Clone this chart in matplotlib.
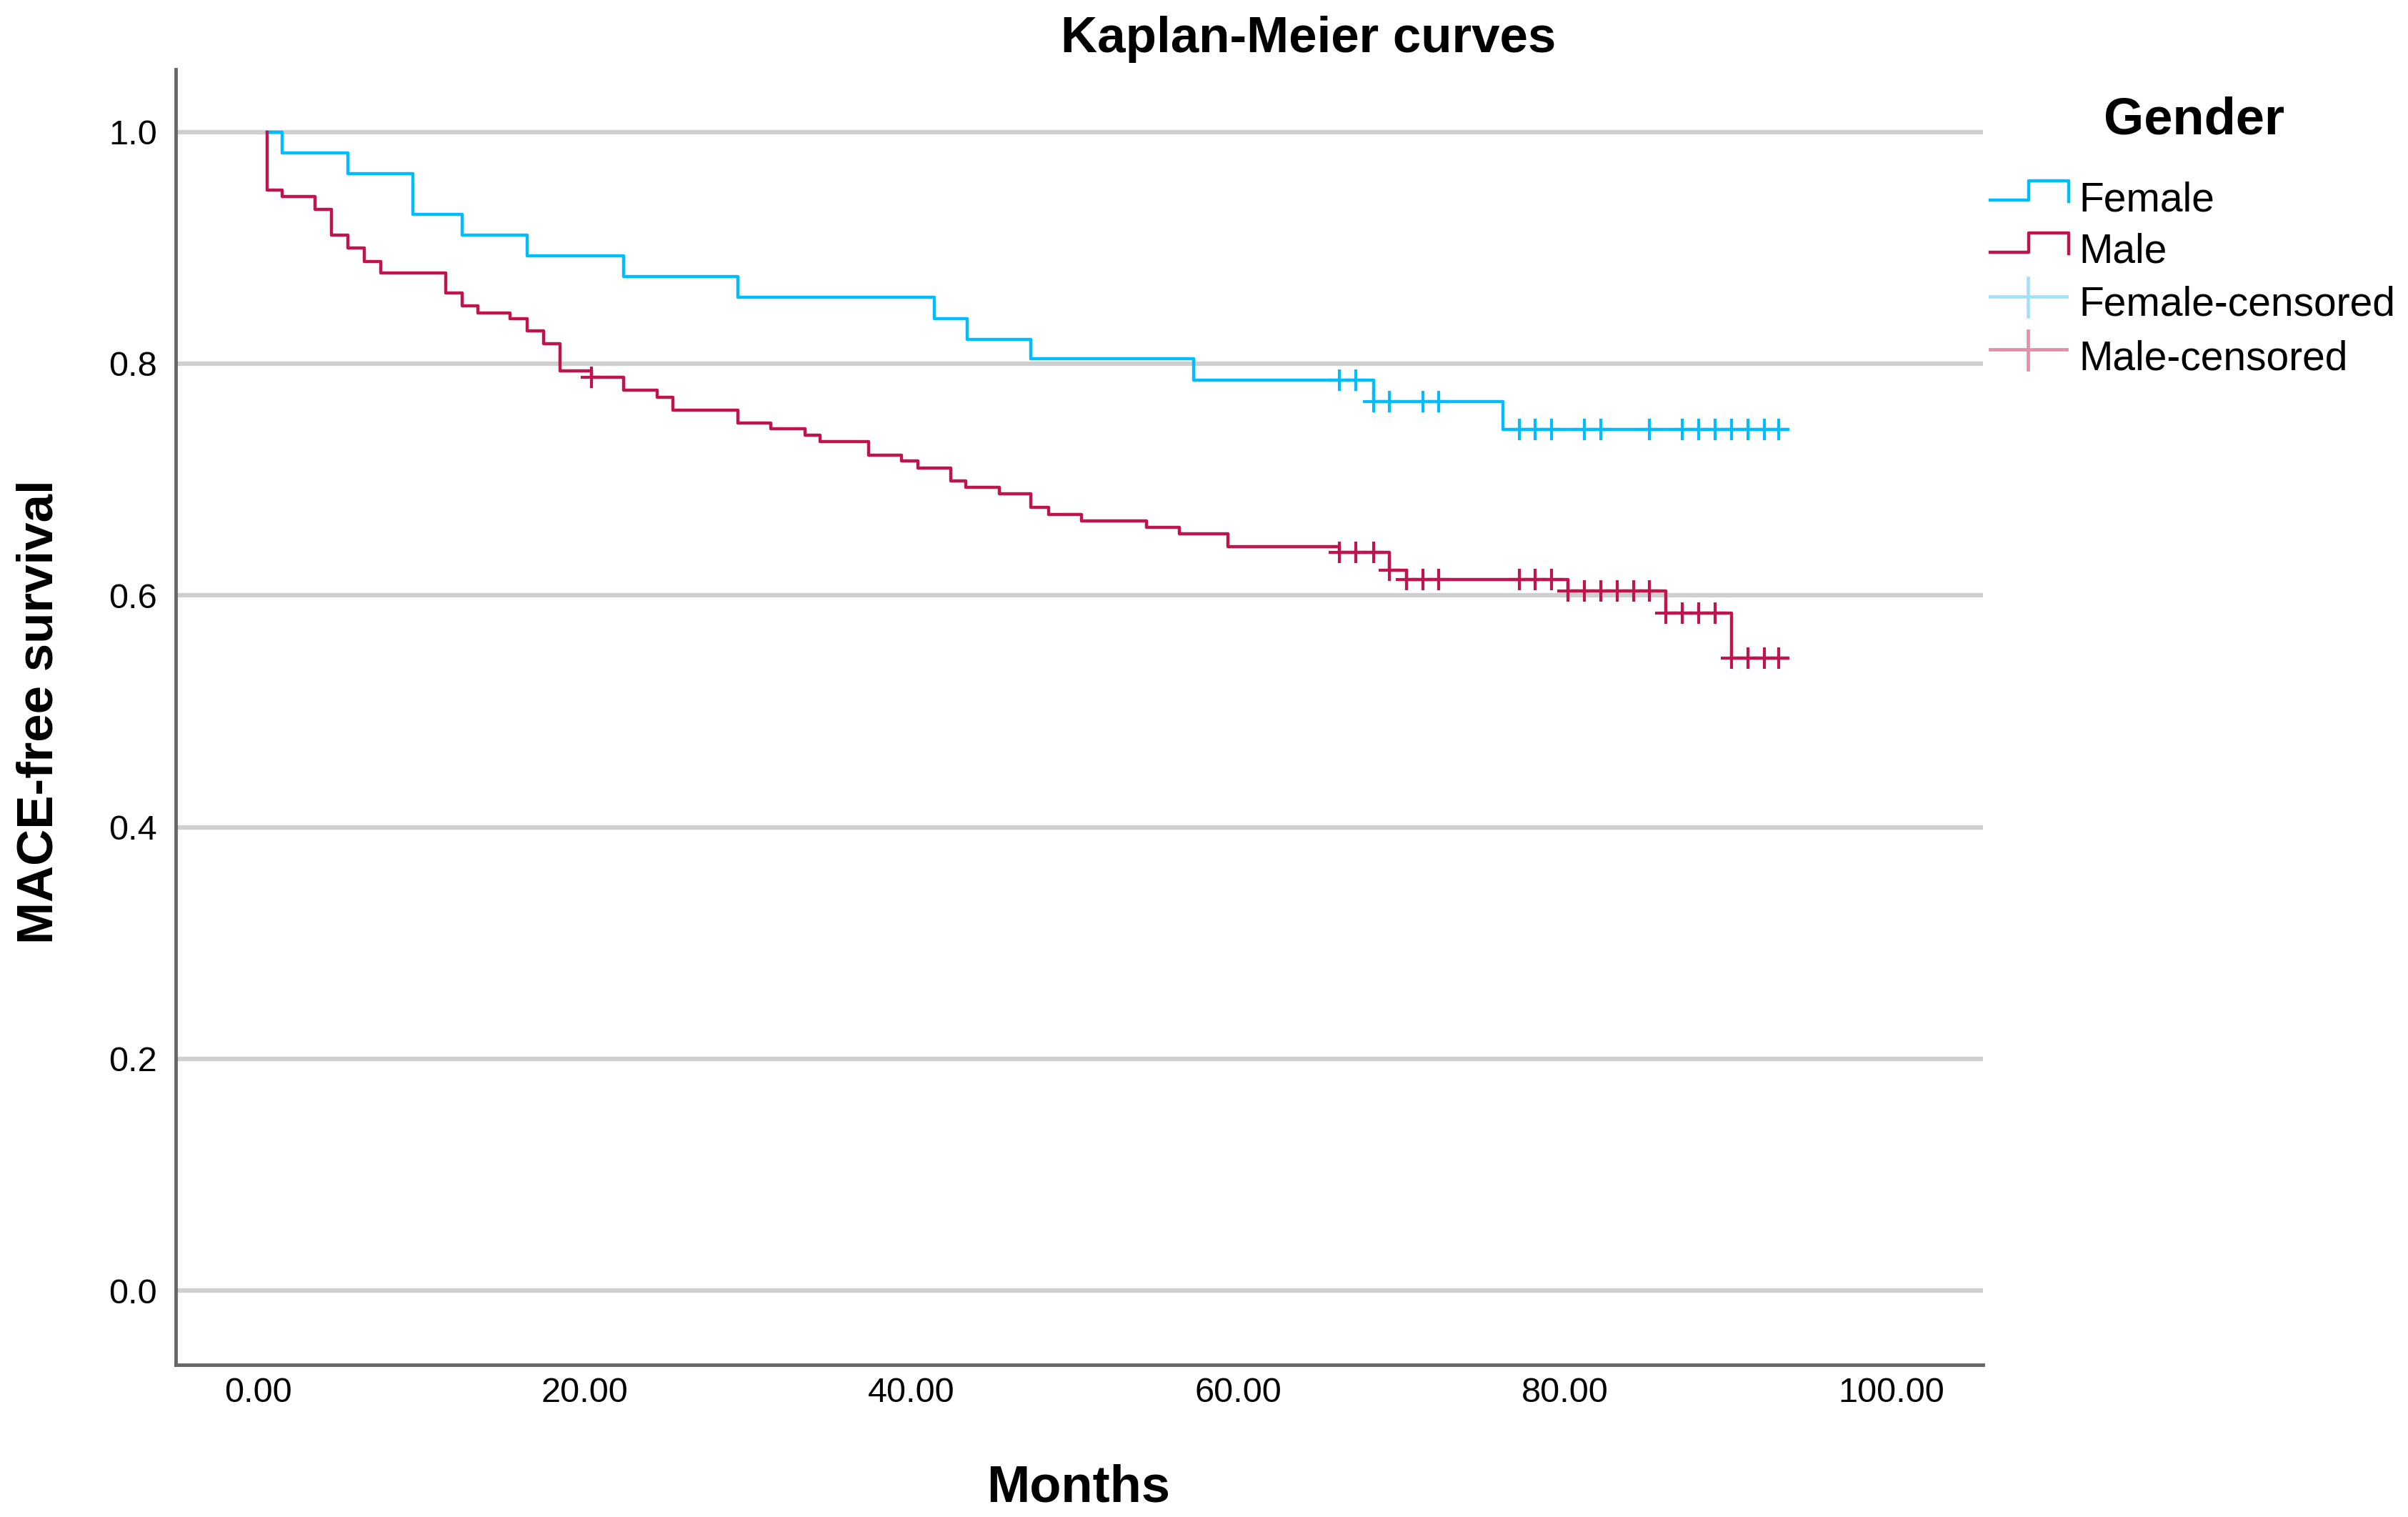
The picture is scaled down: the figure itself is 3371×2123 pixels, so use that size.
import numpy as np
import matplotlib
matplotlib.use("Agg")
import matplotlib.pyplot as plt
from matplotlib.lines import Line2D
from matplotlib.ticker import FormatStrFormatter

plt.rcParams['font.family'] = ['Liberation Sans', 'DejaVu Sans']

# Kaplan-Meier steps (time in months, survival after the step)
female_times = [0.55, 1.5, 5.5, 9.5, 12.5, 16.5, 22.4, 29.4, 41.4, 43.4, 47.3, 57.3, 68.3, 76.2]
female_surv = [1.0, 0.982, 0.964, 0.929, 0.911, 0.893, 0.875, 0.857, 0.839, 0.821, 0.804, 0.786, 0.767, 0.743]
female_end = 93.6
female_censored = [66.2, 67.2, 68.3, 69.25, 71.3, 72.3, 77.2, 78.2, 79.2, 81.2, 82.2,
                   85.2, 87.2, 88.2, 89.2, 90.2, 91.2, 92.2, 93.1]

male_times = [0.55, 0.57, 1.5, 3.5, 4.5, 5.5, 6.5, 7.5, 11.5, 12.5, 13.45, 15.45, 16.5, 17.5,
              18.5, 20.4, 22.4, 24.45, 25.4, 29.4, 31.4, 33.5, 34.4, 37.4, 39.4, 40.4, 42.4,
              43.35, 45.4, 47.3, 48.4, 50.4, 54.4, 56.4, 59.4, 66.2, 69.25, 70.3, 80.2, 86.2, 90.2]
male_surv = [1.0, 0.950, 0.944, 0.933, 0.911, 0.900, 0.888, 0.878, 0.861, 0.850, 0.844, 0.839,
             0.828, 0.817, 0.794, 0.788, 0.777, 0.771, 0.760, 0.749, 0.744, 0.738, 0.733, 0.721,
             0.716, 0.710, 0.699, 0.693, 0.688, 0.676, 0.670, 0.664, 0.659, 0.653, 0.642, 0.637,
             0.622, 0.614, 0.604, 0.585, 0.546]
male_end = 93.6
male_censored = [20.4, 66.2, 67.2, 68.3, 69.25, 70.3, 71.3, 72.3, 77.2, 78.2, 79.2, 80.2, 81.2,
                 82.2, 83.2, 84.2, 85.2, 86.2, 87.2, 88.2, 89.2, 90.2, 91.2, 92.2, 93.1]

x_ticks = [0, 20, 40, 60, 80, 100]
y_ticks = [0.0, 0.2, 0.4, 0.6, 0.8, 1.0]

BLUE = '#00bdff'
RED = '#c0144f'
BLUE_LIGHT = '#9fe2ff'
RED_LIGHT = '#e68daa'

W, H = 3371, 2123


def px(x, y):
    return x / W, 1 - y / H


def surv_at(times, surv, t):
    i = np.searchsorted(times, t, side='right') - 1
    return np.array(surv)[i]


fig = plt.figure(figsize=(W / 100, H / 100), dpi=100)
ax = fig.add_axes([246 / W, 1 - 1910 / H, (2776 - 246) / W, (1910 - 97) / H])

for times, surv, end, cens, col in [(female_times, female_surv, female_end, female_censored, BLUE),
                                    (male_times, male_surv, male_end, male_censored, RED)]:
    ax.step(list(times) + [end], list(surv) + [surv[-1]], where='post', color=col, lw=3.2, zorder=3)
    cy = [surv_at(times, surv, t) for t in cens]
    ax.plot(cens, cy, ls='none', marker='+', ms=21, mew=3.0, color=col, zorder=4)

ax.set_xlim(-5.03, 105.6)
ax.set_ylim(-0.064, 1.054)
ax.set_xticks(x_ticks)
ax.set_yticks(y_ticks)
ax.xaxis.set_major_formatter(FormatStrFormatter('%.2f'))
ax.yaxis.set_major_formatter(FormatStrFormatter('%.1f'))
ax.yaxis.grid(True, color='#cfcfcf', lw=4.5)
ax.set_axisbelow(True)
ax.tick_params(length=0, labelsize=35)
ax.tick_params(axis='y', pad=19)
ax.tick_params(axis='x', pad=12)
for s in ['top', 'right']:
    ax.spines[s].set_visible(False)
for s in ['left', 'bottom']:
    ax.spines[s].set_color('#666666')
    ax.spines[s].set_linewidth(3.5)

fig.text(*px(1832, 73), 'Kaplan-Meier curves', ha='center', va='baseline', fontsize=51, fontweight='bold')
fig.text(*px(1510, 2102), 'Months', ha='center', va='baseline', fontsize=52, fontweight='bold')
fig.text(*px(56, 996), 'MACE-free survival', ha='center', va='center', rotation=90,
         fontsize=51, fontweight='bold')

# legend drawn by hand to get the SPSS look
fig.text(*px(3072, 188), 'Gender', ha='center', va='baseline', fontsize=52, fontweight='bold')
step_x = [2786, 2840, 2840, 2896, 2896]
for dy, col in [(0, BLUE), (73, RED)]:
    step_y = [280 + dy, 280 + dy, 253 + dy, 253 + dy, 282 + dy]
    xs, ys = zip(*[px(a, b) for a, b in zip(step_x, step_y)])
    fig.add_artist(Line2D(xs, ys, color=col, lw=3.2, transform=fig.transFigure))
for yc, col in [(415, BLUE_LIGHT), (489, RED_LIGHT)]:
    xs, ys = zip(px(2786, yc), px(2893, yc))
    fig.add_artist(Line2D(xs, ys, color=col, lw=3.4, transform=fig.transFigure))
    xs, ys = zip(px(2839, yc - 26), px(2839, yc + 28))
    fig.add_artist(Line2D(xs, ys, color=col, lw=3.4, transform=fig.transFigure))
for yb, lab in [(295, 'Female'), (367, 'Male'), (442, 'Female-censored'), (517, 'Male-censored')]:
    fig.text(*px(2910, yb), lab, ha='left', va='baseline', fontsize=41)

fig.savefig('out.png', dpi=100, facecolor='white')
